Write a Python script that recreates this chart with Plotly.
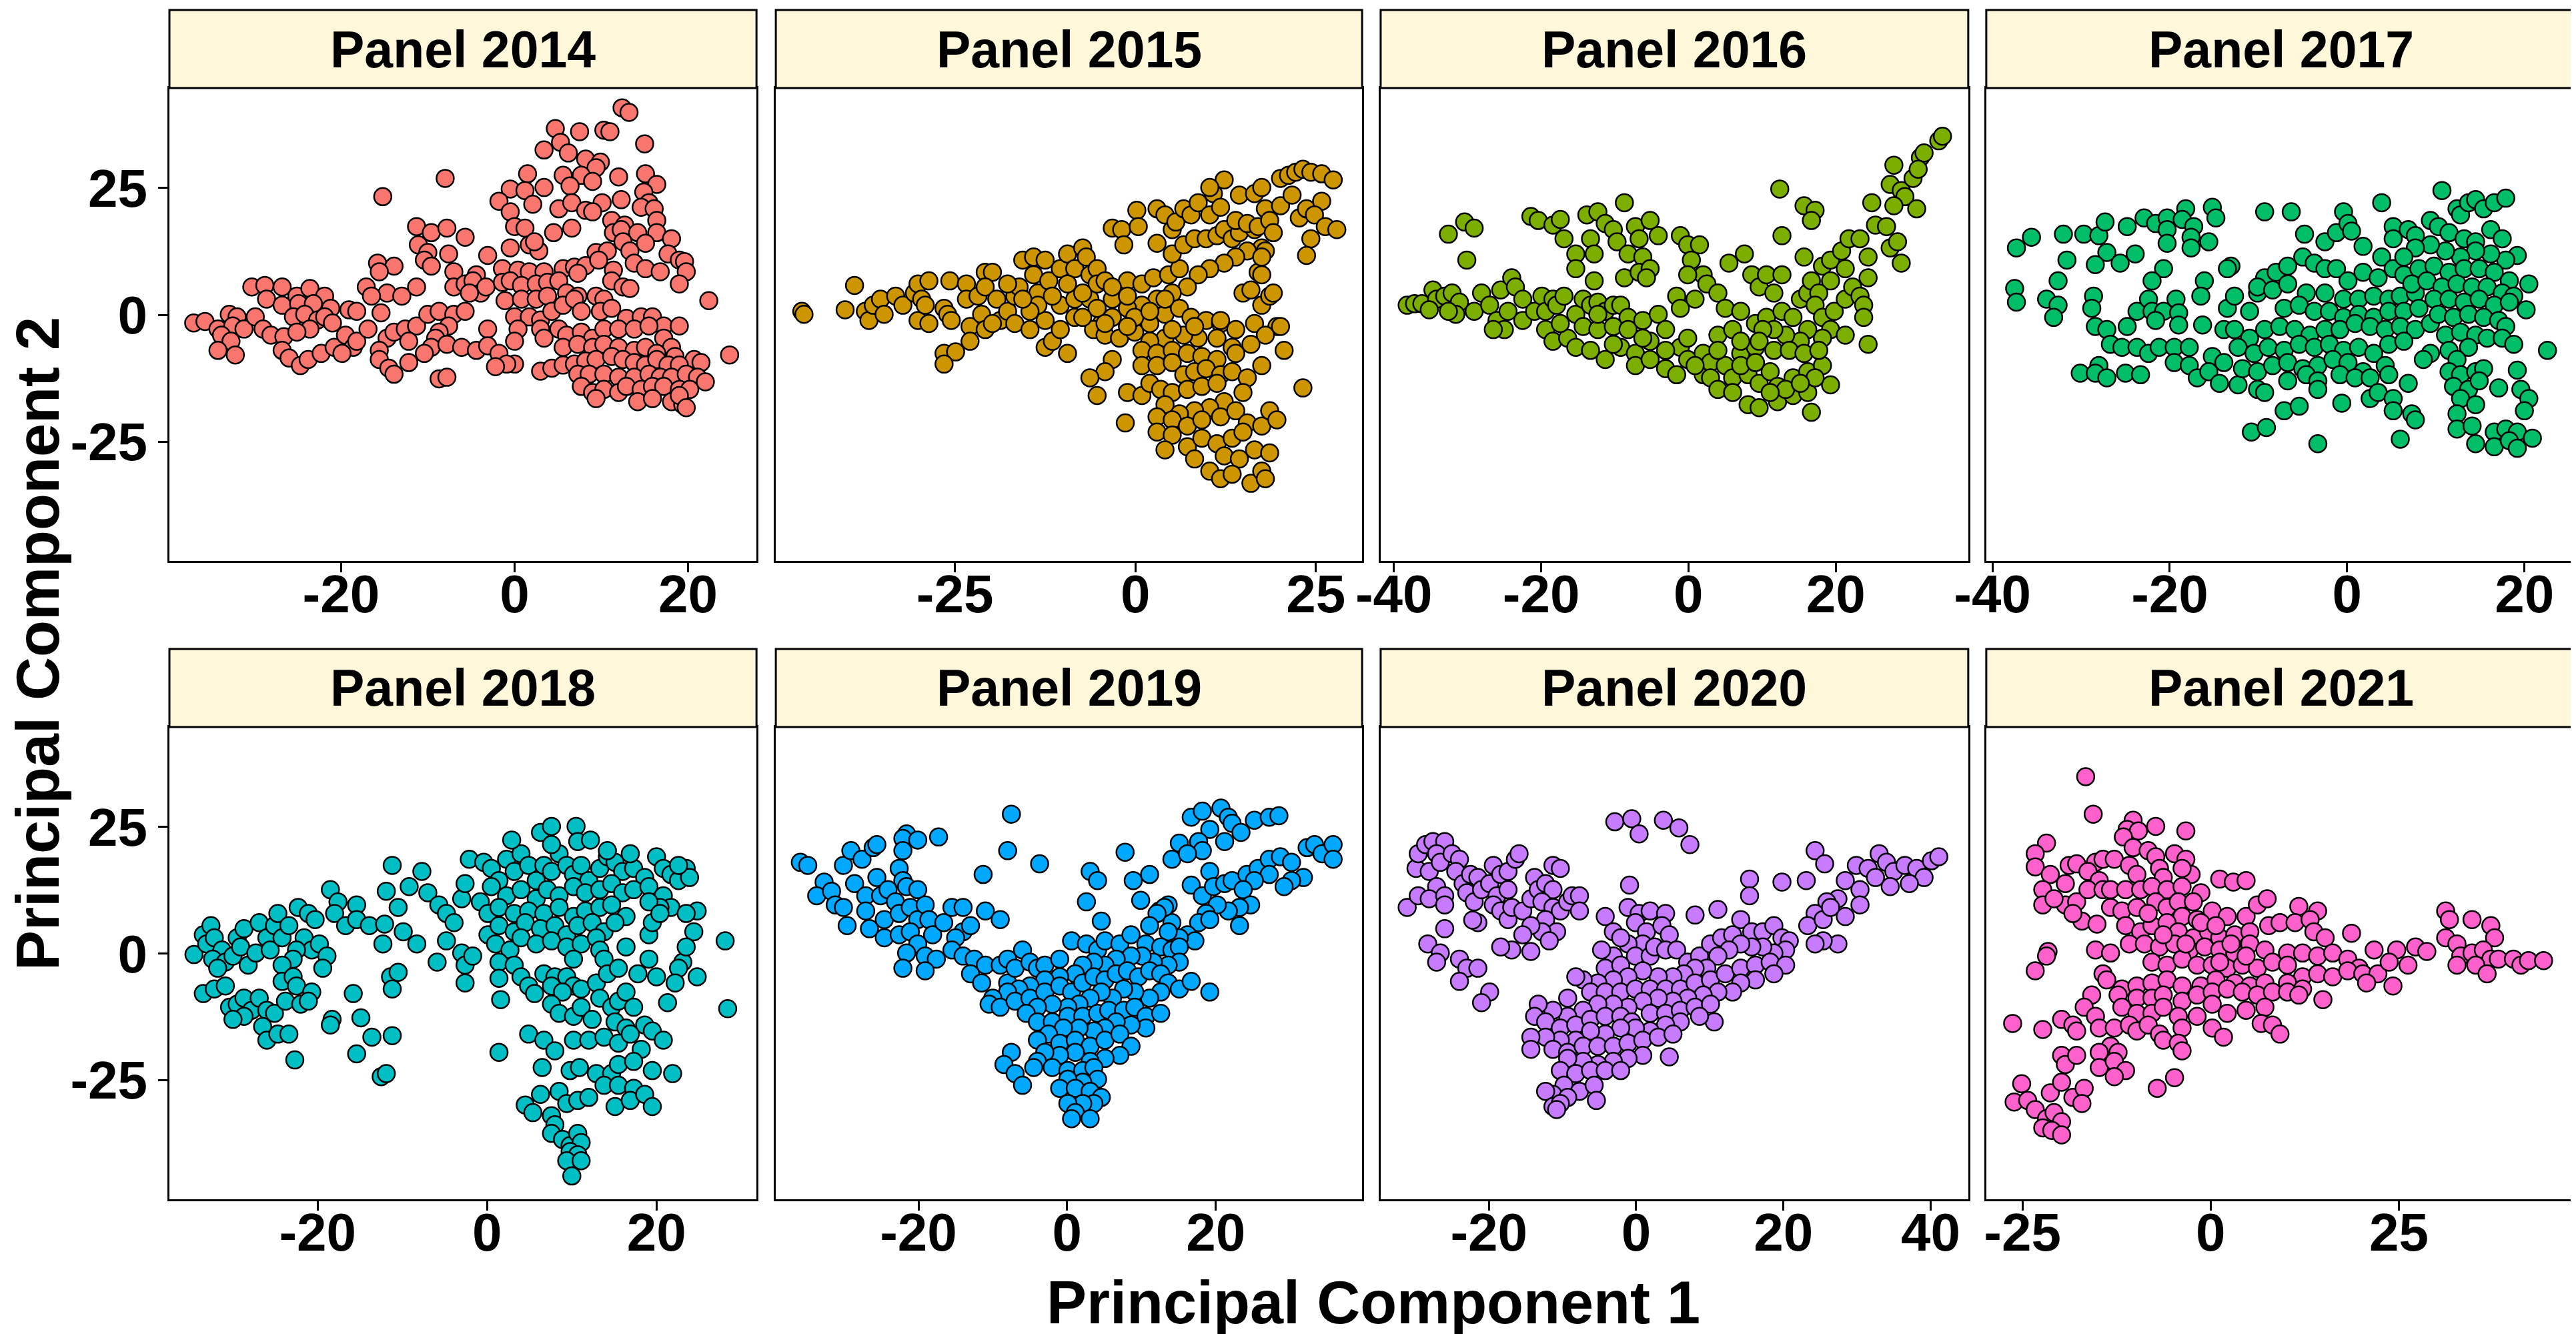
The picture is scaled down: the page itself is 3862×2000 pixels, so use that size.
import plotly.graph_objects as go

# ---------------
# DATA (PC1, PC2) per panel
# ---------------
years = [2014, 2015, 2016, 2017, 2018, 2019, 2020, 2021]
colors = ["#F8766D", "#CD9600", "#7CAE00", "#00BE67",
          "#00BFC4", "#00A9FF", "#C77CFF", "#FF61CC"]

pts_2014 = [
    (12.4, 40.8), (13.2, 39.9), (4.7, 36.7), (7.5, 36.1), (10.3, 36.4), (11.0, 36.1), (15.0, 33.7), (5.3, 34.0),
    (3.4, 32.5), (6.2, 31.9), (8.2, 30.7), (9.9, 30.1), (9.4, 29.0), (-8.0, 26.9), (1.5, 27.8), (5.6, 27.5),
    (7.7, 27.5), (9.0, 26.3), (12.0, 27.2), (15.1, 27.8), (16.4, 25.7), (-0.5, 24.8), (1.2, 24.5), (3.4, 25.1),
    (6.4, 25.4), (-15.2, 23.3), (-1.8, 22.4), (2.1, 21.8), (5.1, 20.9), (6.6, 22.1), (8.2, 20.6), (10.1, 22.1),
    (12.3, 22.7), (14.9, 24.2), (15.5, 22.1), (14.6, 21.2), (16.1, 20.9), (-0.5, 20.3), (9.0, 20.3), (16.4, 18.6),
    (11.2, 18.6), (12.7, 17.7), (-11.3, 17.4), (-9.6, 16.2), (-7.8, 17.1), (-5.7, 15.3), (0.0, 17.4), (1.2, 17.1),
    (4.5, 16.2), (6.6, 17.1), (11.4, 16.2), (12.3, 16.8), (14.2, 16.2), (16.4, 16.2), (18.1, 15.0), (-11.1, 13.8),
    (-10.0, 12.3), (-7.6, 12.0), (-3.1, 11.7), (-0.5, 13.2), (1.7, 13.8), (2.8, 12.6), (2.3, 14.4), (12.5, 14.4),
    (15.1, 14.1), (9.4, 12.3), (10.7, 12.6), (13.3, 12.6), (17.7, 12.0), (19.0, 10.8), (19.6, 10.5), (-15.8, 10.2),
    (-13.9, 9.6), (-15.6, 8.5), (-10.4, 10.8), (-9.6, 9.6), (-7.0, 8.5), (-4.4, 7.9), (-1.4, 9.1), (0.4, 8.8),
    (1.7, 8.5), (3.4, 8.5), (5.6, 9.1), (6.9, 9.4), (8.2, 9.7), (9.7, 10.8), (11.4, 8.8), (13.8, 10.2),
    (15.1, 9.1), (16.8, 8.5), (19.8, 8.5), (19.0, 6.1), (11.2, 6.7), (12.5, 5.5), (13.3, 5.2),
    (-30.3, 5.5), (-28.8, 5.8), (-26.8, 5.5), (-25.1, 3.7), (-23.6, 5.2), (-21.9, 3.7), (-28.6, 3.1), (-26.8, 1.9),
    (-24.9, 2.2), (-23.2, 2.2), (-21.2, 1.3), (-17.1, 5.5), (-14.7, 4.3), (-13.0, 3.7), (-11.3, 5.5), (-16.5, 3.7),
    (-7.0, 5.5), (-5.7, 6.1), (-4.8, 6.7), (-3.9, 4.3), (-3.3, 5.5), (-5.2, 4.3), (-1.4, 6.4), (-0.5, 6.7),
    (0.8, 5.8), (2.5, 6.1), (3.8, 6.4), (5.1, 6.7), (7.3, 8.2), (-1.1, 2.8), (0.8, 3.1), (2.5, 3.1),
    (3.8, 3.7), (6.0, 4.3), (7.3, 3.7), (9.4, 3.7), (10.3, 3.1), (22.4, 2.8),
    (-37.0, -1.6), (-35.7, -1.3), (-34.2, -2.8), (-32.9, 0.1), (-32.0, -0.4), (-32.5, -2.2), (-31.2, -2.8),
    (-33.8, -4.0), (-32.7, -5.2), (-34.2, -7.0), (-32.2, -7.9), (-29.9, -0.4), (-29.0, -2.8), (-28.1, -4.0),
    (-26.6, -4.3), (-25.5, -0.4), (-24.2, 0.1), (-22.7, -1.0), (-21.9, -0.4), (-21.0, -1.6), (-23.6, -2.8),
    (-25.1, -3.4), (-26.8, -7.0), (-26.0, -8.5), (-24.7, -10.0), (-23.8, -8.8), (-22.3, -7.6), (-20.8, -6.4),
    (-19.5, -4.0), (-18.6, -6.4), (-19.9, -7.6), (-18.2, -5.2), (-19.1, 1.0), (-18.2, 0.7), (-16.9, -2.8),
    (-15.4, 0.4), (-14.7, -4.6), (-13.9, -3.4), (-12.6, -2.8), (-11.3, -2.2), (-12.2, -5.2), (-10.0, 0.1),
    (-8.7, 0.7), (-7.0, 0.1), (-5.7, 0.7), (-7.6, -2.2), (-8.7, -3.4), (-9.1, -4.6), (-9.6, -6.4), (-7.8, -5.8),
    (-6.1, -6.4), (-4.4, -7.0), (-3.1, -2.8), (-3.1, -6.1), (-1.8, -7.6), (0.0, -9.7), (-0.9, -9.7), (-2.2, -10.2),
    (-15.6, -7.0), (-15.6, -8.8), (-14.5, -10.5), (-13.9, -11.7), (-12.2, -9.4), (-10.4, -7.6), (-8.7, -12.6),
    (-7.8, -12.3),
    (0.0, -0.4), (1.7, -0.4), (3.0, -1.0), (4.3, 0.7), (5.6, 1.9), (6.9, 3.1), (7.7, 0.7), (9.9, 0.7),
    (11.2, 1.3), (12.9, -0.7), (14.6, -0.4), (15.9, -0.4), (17.2, -2.2), (19.0, -2.2), (0.4, -2.8), (3.0, -2.8),
    (5.1, -2.8), (6.0, -4.0), (7.7, -3.4), (9.0, -4.6), (10.3, -2.8), (12.0, -2.8), (13.8, -2.8), (15.5, -2.2),
    (17.2, -4.6), (18.1, -6.4), (0.0, -5.2), (3.4, -4.6), (5.6, -6.4), (7.3, -5.8), (9.0, -6.4), (10.3, -5.8),
    (12.0, -6.4), (13.8, -7.0), (15.1, -6.4), (16.4, -7.6), (18.5, -8.2), (20.7, -8.8), (21.5, -9.4), (24.8, -7.9),
    (3.0, -11.1), (4.3, -10.5), (5.6, -9.9), (6.9, -9.7), (8.2, -9.1), (9.4, -8.8), (11.2, -8.2), (12.5, -8.8),
    (13.8, -9.4), (15.1, -9.9), (16.4, -8.8), (17.7, -9.9), (19.0, -9.9), (7.3, -11.7), (8.6, -11.7), (10.3, -11.7),
    (12.0, -12.3), (13.8, -12.3), (15.5, -11.7), (16.8, -12.3), (18.1, -12.3), (19.8, -11.7), (21.1, -12.3),
    (22.0, -13.2), (7.7, -14.1), (9.0, -15.3), (10.3, -14.7), (12.0, -15.3), (12.9, -14.1), (14.6, -14.7),
    (15.9, -14.1), (17.2, -14.1), (19.0, -14.7), (20.2, -14.7), (14.2, -17.1), (15.9, -16.5), (18.1, -17.1),
    (19.4, -17.7), (19.0, -15.9), (9.4, -16.5), (19.8, -18.3),
]

pts_2015 = [
    (-46.2, 0.7), (-45.9, 0.1), (-40.2, 1.0), (-38.9, 5.8), (-37.4, 0.7), (-36.9, -1.1), (-36.3, 1.9), (-35.3, 3.1),
    (-34.8, 0.1), (-33.2, 3.7), (-32.2, 1.9), (-30.6, 4.3), (-30.1, 6.1), (-29.6, 3.1), (-28.6, 6.7), (-30.1, -1.1),
    (-28.6, -1.7), (-29.1, 1.9), (-26.5, 1.3), (-26.0, 0.1), (-25.5, -1.1), (-25.7, 6.7), (-23.4, 6.1), (-23.4, 3.1),
    (-22.9, -2.3), (-21.8, 3.7), (-21.3, 0.1), (-20.8, 8.4), (-19.8, 8.4), (-20.8, 5.5), (-19.2, 3.1), (-18.7, -1.1),
    (-17.7, 0.7), (-16.7, 3.7), (-16.1, 5.5), (-15.6, 10.8), (-14.1, 11.4), (-12.5, 10.8), (-14.1, 7.9), (-13.5, 4.3),
    (-12.0, 6.7), (-10.4, 9.1), (-9.4, 12.0), (-8.4, 9.1), (-7.3, 13.2), (-6.8, 11.4), (-6.3, 7.9), (-5.3, 9.1),
    (-22.9, -5.2), (-26.5, -7.6), (-24.9, -7.3), (-26.5, -9.7), (-20.8, -2.9), (-19.8, -1.7), (-16.7, -1.7),
    (-14.6, -2.9), (-12.5, -1.1), (-12.5, -6.4), (-11.5, -5.2), (-9.4, -7.6), (-10.4, -2.9), (-10.4, 1.9),
    (-8.4, -0.5), (-8.4, 3.1), (-6.3, 3.1), (-5.3, 6.1), (-4.2, 6.7), (-3.2, 3.1), (-1.1, 6.7), (0.9, 6.1),
    (2.5, 7.3), (4.6, 7.9), (6.1, 9.1), (5.1, 12.0), (6.7, 13.8), (8.2, 15.0), (9.8, 15.0), (11.3, 15.6),
    (12.3, 16.8), (13.4, 15.0), (14.4, 16.2), (16.5, 16.8), (17.5, 13.2), (15.5, 12.6), (13.9, 11.4), (12.3, 10.2),
    (10.3, 9.1), (8.7, 7.9), (7.2, 5.5), (5.1, 4.3), (3.0, 3.1), (0.9, 1.9), (-1.1, 1.3), (-3.2, -0.5),
    (-4.7, -1.7), (-5.8, -2.9), (-4.2, -4.0), (-2.2, -4.6), (-0.1, -3.4), (2.0, -1.7), (4.1, 0.1), (6.1, 1.3),
    (7.7, -0.5), (9.8, -1.1), (11.8, -1.7), (13.9, -2.9), (16.5, -1.7), (19.6, -2.3), (18.0, -4.0), (16.0, -5.8),
    (13.4, -6.4), (11.3, -4.6), (8.7, -4.6), (6.7, -4.0), (4.1, -4.6), (2.0, -5.2), (0.9, -7.0), (3.0, -7.6),
    (5.1, -7.0), (7.2, -7.6), (9.2, -8.2), (11.3, -8.8), (13.9, -7.6), (-3.2, -8.8), (-4.2, -11.2), (-6.3, -12.4),
    (-5.3, -15.9), (-1.1, -15.3), (0.9, -15.9), (2.0, -13.5), (0.9, -10.0), (3.0, -10.0), (5.1, -9.4), (6.7, -11.8),
    (8.2, -11.2), (9.8, -10.6), (11.8, -11.8), (13.4, -11.2), (15.5, -12.4), (17.5, -10.0), (14.9, -15.3),
    (20.6, -7.0), (23.2, -14.4), (3.5, -14.7), (5.1, -15.3), (7.2, -14.7), (9.2, -14.1), (11.3, -13.5),
    (12.3, -17.1), (10.3, -18.3), (8.2, -18.9), (6.1, -19.5), (4.1, -17.7), (3.0, -20.1), (5.1, -20.7),
    (7.2, -21.9), (9.2, -20.7), (11.8, -20.1), (13.9, -18.9), (15.5, -21.3), (17.5, -21.9), (18.6, -18.9),
    (19.6, -20.7), (-1.4, -21.3), (3.0, -23.1), (5.1, -23.7), (7.2, -26.0), (9.2, -24.3), (11.3, -25.4),
    (13.4, -24.3), (14.9, -23.1), (16.5, -26.6), (18.6, -27.2), (4.1, -26.6), (8.2, -28.4), (10.3, -30.8),
    (12.3, -27.8), (14.4, -28.4), (11.8, -32.3), (13.4, -31.4), (16.0, -33.2), (17.5, -30.8), (18.0, -32.3),
    (-3.2, 17.1), (-1.9, 16.8), (-1.6, 13.8), (0.2, 20.6), (0.4, 17.4), (3.0, 20.9), (4.1, 19.7), (3.0, 14.1),
    (5.1, 16.8), (5.6, 18.3), (6.7, 20.9), (7.7, 19.7), (8.7, 22.1), (10.3, 19.7), (10.8, 23.9), (11.8, 21.2),
    (12.3, 26.6), (10.3, 25.1), (13.9, 18.6), (14.4, 23.6), (15.5, 18.0), (16.5, 23.9), (17.5, 25.1), (18.0, 20.9),
    (17.0, 17.4), (18.6, 18.6), (19.1, 16.2), (20.1, 21.5), (20.1, 26.9), (21.2, 27.5), (22.2, 28.1), (23.2, 28.7),
    (24.3, 28.1), (25.8, 27.8), (27.4, 26.6), (21.7, 23.6), (22.7, 19.1), (23.7, 20.9), (25.8, 22.4), (24.8, 19.7),
    (26.3, 17.4), (27.9, 16.8), (24.3, 15.0), (23.7, 11.7), (18.0, 12.6), (17.0, 8.4), (17.5, 7.9), (14.9, 4.3),
    (16.0, 4.9), (17.5, 1.9), (18.6, 3.7), (19.1, 4.3), (11.8, -1.1), (20.1, -2.3), (17.5, 11.4),
    (-17.7, 6.1), (-13.5, 1.9), (-11.5, 3.7), (-9.4, 6.1), (-7.3, 4.3), (-5.3, 1.3), (-3.2, 5.5), (-1.1, 3.7),
    (-0.1, -0.5), (2.0, 0.7), (4.1, 3.1), (-4.2, -1.7), (-7.3, -0.5), (-1.1, -2.3), (5.1, -2.9), (8.2, -2.3),
    (-14.6, 0.7), (-15.6, 3.1),
]

pts_2016 = [
    (-38.2, 1.9), (-37.2, 2.2), (-36.2, 2.2), (-34.7, 4.9), (-34.2, 3.1), (-33.1, 3.7), (-32.1, 4.3), (-31.1, 2.5),
    (-31.6, 0.1), (-32.6, 0.7), (-35.2, 1.0), (-29.1, 0.7), (-28.1, 4.3), (-27.0, 1.9), (-26.0, -1.1), (-25.5, 4.9),
    (-24.0, 7.3), (-23.5, 5.5), (-24.5, 0.7), (-22.5, 3.1), (-22.5, -1.1), (-25.0, -2.9), (-26.5, -2.9), (-20.9, 0.7),
    (-19.9, 3.7), (-19.4, 0.7), (-18.4, 3.1), (-17.9, 1.9), (-16.9, 3.7), (-19.4, -2.9), (-18.4, -5.2), (-16.4, -4.6),
    (-15.3, 0.1), (-14.3, 3.1), (-13.3, 1.9), (-12.3, 2.5), (-11.3, 0.7), (-10.2, 1.9), (-9.2, 1.9), (-8.2, -0.5),
    (-14.3, -2.3), (-12.3, -2.9), (-10.2, -2.3), (-8.2, -2.9), (-6.2, -1.1), (-4.1, 0.1), (-15.3, -6.4), (-13.3, -7.0),
    (-11.3, -8.8), (-9.2, -6.4), (-7.2, -7.6), (-5.2, -5.2), (-3.1, -2.9), (-1.1, -6.4), (-0.1, -4.6), (-7.2, -10.0),
    (-5.2, -8.8), (-3.1, -10.6), (-1.6, -11.8), (-0.1, -8.8), (2.0, -7.6), (2.0, -11.8), (3.0, -9.4), (5.0, -10.0),
    (7.1, -7.6), (9.1, -6.4), (6.0, -12.4), (8.1, -11.8), (9.6, -13.5), (11.1, -11.2), (12.1, -14.1), (14.2, -12.4),
    (16.2, -11.2), (18.2, -10.0), (19.3, -13.8), (8.1, -17.7), (9.6, -18.3), (12.1, -17.1), (14.2, -15.9),
    (16.2, -15.3), (16.7, -19.2), (17.2, -12.4),
    (-32.6, 15.9), (-30.4, 18.3), (-29.1, 17.1), (-30.1, 10.8), (-21.4, 19.4), (-20.4, 18.6), (-18.4, 17.7),
    (-17.4, 18.8), (-16.9, 15.0), (-15.3, 12.0), (-15.3, 9.1), (-13.8, 19.7), (-13.3, 15.0), (-12.8, 12.0),
    (-12.8, 6.7), (-12.3, 20.3), (-11.3, 18.0), (-10.2, 16.8), (-9.7, 14.4), (-8.7, 22.1), (-8.2, 12.0), (-8.7, 7.3),
    (-7.2, 17.4), (-6.7, 15.0), (-6.2, 11.4), (-6.7, 8.4), (-5.2, 18.6), (-5.2, 9.1), (-4.1, 15.6), (-5.7, 7.3),
    (-1.1, 15.6), (-0.1, 13.8), (0.4, 10.8), (1.5, 13.8), (2.0, 7.9), (-0.1, 7.9), (-1.6, 3.7), (-1.1, 1.3),
    (0.9, 3.1), (2.5, 6.1), (4.0, 4.3), (5.5, 10.2), (7.6, 12.0), (8.6, 7.9), (9.6, 5.5), (10.6, 7.9), (11.6, 4.3),
    (12.7, 7.9), (5.0, 1.3), (7.1, 0.7), (9.1, -1.7), (10.6, -0.5), (12.7, 0.7), (14.2, -0.5), (15.2, 3.1),
    (16.2, 4.3), (16.7, 6.7), (18.2, 9.6), (19.3, 10.8), (20.8, 12.6), (21.8, 15.0), (23.3, 15.0), (24.4, 11.4),
    (21.3, 9.1), (19.3, 6.7), (17.7, 4.3), (17.2, 1.9), (18.2, -0.5), (19.8, 0.7), (21.3, 3.1), (22.3, 5.5),
    (24.4, 7.3), (23.3, 3.7), (23.8, 1.9), (23.8, -0.5), (19.3, -2.9), (21.3, -4.0), (18.2, -4.6), (16.2, -2.9),
    (15.2, -5.2), (13.2, -4.0), (11.6, -2.9), (10.1, -2.9), (9.6, -5.2), (11.6, -7.0), (13.7, -7.0), (15.7, -7.6),
    (17.7, -7.0), (24.4, -5.8), (4.0, -4.0), (6.0, -2.9), (7.1, -5.2),
    (12.4, 24.8), (12.7, 15.6), (15.7, 21.5), (17.2, 20.6), (16.7, 18.6), (15.7, 11.4), (24.9, 22.1), (25.4, 17.7),
    (26.9, 17.4), (27.9, 29.5), (27.4, 25.7), (28.9, 24.5), (29.4, 23.3), (27.9, 21.5), (27.4, 13.2), (28.4, 14.4),
    (28.9, 10.2), (31.0, 20.9), (30.5, 26.9), (31.5, 31.0), (32.0, 31.9), (31.2, 28.7), (34.0, 34.3), (34.5, 35.2),
    (3.0, -12.4), (4.0, -14.7), (6.0, -15.3), (13.2, -14.7), (15.2, -13.5), (11.1, -15.3), (-3.1, -7.0),
    (0.9, -10.0), (4.0, -7.0), (7.1, -10.0), (9.1, -9.4), (-10.2, -5.8), (-6.2, -4.6), (-12.3, 0.1), (-17.4, -1.7),
]

pts_2017 = [
    (-37.3, 13.2), (-35.6, 15.3), (-32.0, 15.9), (-31.6, 10.8), (-32.6, 6.7), (-29.7, 15.9), (-28.0, 15.6),
    (-27.3, 18.3), (-27.1, 12.3), (-28.4, 9.9), (-25.6, 10.2), (-24.8, 17.4), (-23.9, 12.0), (-22.9, 19.1),
    (-21.6, 18.0), (-20.3, 19.1), (-20.3, 16.8), (-20.3, 14.1), (-18.2, 20.9), (-18.6, 18.8), (-17.3, 17.4),
    (-17.6, 15.3), (-17.6, 13.2), (-15.2, 21.2), (-14.8, 19.1), (-15.6, 14.4), (-20.7, 9.1), (-22.0, 6.7),
    (-16.1, 6.7), (-16.5, 3.7), (-13.1, 9.6), (-37.5, 5.2), (-37.3, 2.5), (-33.9, 3.1), (-32.6, 1.9), (-33.1, -0.5),
    (-28.6, 3.7), (-28.8, 1.3), (-28.4, -2.3), (-27.1, -2.9), (-24.8, -2.3), (-23.7, 0.7), (-22.4, 3.1), (-22.0, 0.7),
    (-20.7, 0.7), (-19.3, 3.1), (-19.0, 0.4), (-19.0, -2.0), (-21.6, -1.1), (-16.3, -2.0), (-26.7, -5.8),
    (-25.4, -6.4), (-23.7, -6.4), (-22.4, -7.6), (-21.2, -6.4), (-19.5, -6.4), (-17.8, -6.4), (-28.0, -10.0),
    (-30.1, -11.5), (-28.4, -11.5), (-27.1, -12.4), (-25.0, -11.5), (-23.3, -11.8), (-19.5, -9.4), (-17.8, -10.0),
    (-16.9, -12.4), (-15.2, -8.2), (-13.9, -9.4), (-15.6, -11.2), (-14.4, -13.5), (-12.3, -13.8), (-13.9, -2.9),
    (-13.5, 1.3), (-12.7, 3.7), (-11.0, 0.7), (-10.1, 4.3),
    (-9.3, 20.3), (-6.3, 20.3), (-4.8, 15.9), (-2.5, 14.4), (-1.2, 16.2), (-0.4, 20.3), (0.1, 18.0), (0.5, 16.5),
    (1.8, 13.5), (3.9, 22.1), (5.2, 17.4), (5.2, 15.0), (3.9, 11.4), (-13.5, 9.1), (-9.3, 7.3), (-8.0, 8.4),
    (-6.7, 9.6), (-5.0, 11.4), (-3.7, 10.2), (-2.5, 9.1), (-1.2, 9.1), (0.1, 6.7), (1.8, 8.4), (3.5, 7.3),
    (5.2, 9.1), (6.4, 7.9), (-10.1, 5.5), (-8.4, 4.9), (-6.7, 6.1), (-4.6, 4.3), (-2.5, 4.3), (-0.4, 3.1),
    (1.3, 3.1), (3.0, 3.7), (4.7, 3.1), (6.0, 3.7), (7.7, 4.3), (-7.1, 1.3), (-5.4, 1.9), (-3.7, 0.7), (-2.0, 0.7),
    (-0.4, -0.5), (1.3, 0.1), (3.0, -0.5), (4.7, 0.7), (6.4, 0.7), (8.1, 1.3), (-12.7, -2.9), (-11.0, -4.6),
    (-9.3, -2.9), (-7.6, -2.3), (-5.9, -2.9), (-4.2, -4.0), (-2.5, -2.9), (-0.8, -2.9), (0.9, -1.7), (2.6, -2.3),
    (4.3, -2.9), (6.0, -2.3), (7.7, -2.9), (9.4, -1.7), (-12.3, -6.4), (-10.5, -7.6), (-8.9, -6.4), (-7.1, -7.0),
    (-5.4, -5.8), (-3.7, -6.4), (-2.0, -5.8), (-0.4, -7.0), (1.3, -6.4), (3.0, -7.6), (4.7, -5.8), (6.4, -5.2),
    (9.4, -7.6), (8.6, -8.8), (-11.8, -10.6), (-10.1, -11.2), (-8.4, -10.0), (-6.7, -9.4), (-5.0, -10.6),
    (-3.3, -10.0), (-1.6, -8.8), (0.1, -9.4), (1.8, -11.2), (4.3, -10.0), (-10.1, -14.7), (-9.3, -15.3),
    (-6.7, -13.0), (-4.6, -11.8), (-3.3, -13.0), (-3.3, -14.7), (-0.8, -11.8), (0.9, -12.4), (2.6, -12.4),
    (4.7, -11.8), (6.9, -13.5), (2.6, -16.5), (3.5, -15.3), (5.2, -16.5), (5.2, -18.9), (7.3, -19.5), (7.7, -20.7),
    (-0.6, -17.4), (-7.1, -18.9), (-5.4, -18.0), (-10.8, -23.1), (-9.1, -22.2), (-3.3, -25.4), (6.0, -24.5),
    (6.9, 16.8), (7.7, 15.6), (9.4, 18.6), (10.3, 17.4), (10.7, 24.5), (12.4, 20.9), (12.8, 19.7), (13.7, 22.1),
    (14.5, 22.7), (15.4, 20.9), (16.6, 22.1), (17.9, 23.0), (11.5, 16.2), (13.2, 15.0), (14.5, 14.4), (16.2, 16.8),
    (17.5, 15.0), (19.2, 11.7), (17.9, 10.8), (16.2, 12.0), (14.5, 12.6), (12.8, 11.4), (11.1, 12.6), (9.4, 13.8),
    (7.7, 13.2), (6.4, 11.4), (8.1, 9.1), (9.8, 9.6), (11.5, 8.4), (13.2, 9.1), (14.9, 9.1), (16.6, 8.4),
    (18.3, 6.7), (20.5, 6.1), (7.3, 6.1), (9.0, 6.7), (10.7, 5.5), (12.4, 6.1), (14.1, 5.5), (15.8, 5.5),
    (17.5, 4.3), (18.8, 3.7), (9.8, 3.1), (11.5, 3.1), (13.2, 2.5), (14.9, 3.1), (16.6, 1.9), (18.3, 2.5),
    (20.2, 1.0), (10.3, 0.1), (12.0, -0.5), (13.7, 0.1), (15.4, -0.5), (17.1, -1.1), (17.9, -2.3), (11.1, -4.0),
    (12.8, -3.4), (14.5, -4.0), (15.8, -4.6), (17.5, -4.6), (18.8, -5.8), (22.6, -7.0), (11.5, -7.0), (13.7, -6.4),
    (12.4, -8.8), (11.5, -11.2), (12.8, -11.8), (14.5, -11.2), (15.4, -10.6), (19.2, -10.9), (12.0, -14.1),
    (13.7, -14.7), (14.9, -13.0), (17.1, -14.4), (12.8, -16.5), (14.5, -17.7), (19.6, -14.7), (20.5, -16.5),
    (20.0, -18.9), (12.4, -19.5), (12.4, -22.5), (14.1, -21.9), (16.6, -23.1), (17.9, -22.5), (19.2, -23.1),
    (20.9, -24.3), (14.5, -25.4), (16.6, -26.0), (18.3, -24.8), (19.2, -26.3),
]

pts_2018 = [
    (-34.6, -0.2), (-33.5, 3.7), (-32.6, 5.5), (-33.1, 1.9), (-32.2, 3.1), (-31.3, 0.7), (-32.4, -1.1), (-30.9, -1.7),
    (-31.8, -2.9), (-30.0, -0.5), (-29.5, 3.1), (-28.7, 4.9), (-29.1, 1.3), (-28.2, -2.3), (-27.3, 0.1), (-26.9, 6.1),
    (-26.0, 3.1), (-25.1, 5.5), (-24.7, 7.9), (-25.6, 0.7), (-24.2, 3.1), (-23.4, 5.5), (-22.3, 9.1), (-21.1, 7.9),
    (-20.3, 6.7), (-21.6, 3.1), (-20.7, 0.7), (-19.8, 1.9), (-18.9, -0.5), (-19.4, -2.9), (-22.5, 0.7), (-22.9, -1.1),
    (-24.2, -2.3), (-33.5, -7.9), (-32.2, -7.0), (-30.9, -6.4), (-30.4, -10.6), (-29.5, -10.0), (-28.7, -8.8),
    (-27.8, -11.2), (-26.9, -8.8), (-26.0, -11.2), (-25.1, -11.8), (-28.7, -12.4), (-30.0, -13.0), (-24.2, -5.5),
    (-22.9, -4.6), (-22.5, -6.4), (-23.8, -9.4), (-22.0, -10.0), (-20.7, -7.6), (-21.1, -9.4), (-26.5, -14.4),
    (-26.0, -17.1), (-24.7, -15.9), (-23.4, -15.9), (-22.7, -21.0), (-18.5, 12.6), (-17.6, 10.2), (-18.0, 7.9),
    (-16.7, 5.5), (-15.4, 9.6), (-15.4, 6.7), (-13.9, 5.5), (-12.1, 5.8), (-12.3, 1.9), (-11.9, 12.3), (-11.2, 17.4),
    (-9.9, 4.3), (-9.2, 13.2), (-10.5, 9.1), (-8.3, 1.9), (-7.7, 16.2), (-15.8, -7.9), (-18.3, -13.0),
    (-18.5, -14.1), (-14.9, -12.7), (-13.6, -16.5), (-11.2, -16.2), (-15.4, -19.8), (-12.5, -24.3), (-11.9, -23.7),
    (-11.4, -4.6), (-10.5, -3.7), (-11.2, -7.0),
    (-7.0, 12.0), (-5.7, 9.6), (-4.8, 7.9), (-5.9, -1.7), (-4.8, 2.5), (-3.9, 6.1), (-3.0, 10.8), (-2.6, 13.8),
    (-2.1, 18.6), (-3.0, 0.1), (-2.6, -2.3), (-1.7, -0.5), (-2.6, -5.8), (-0.8, 10.2), (-0.4, 18.0), (0.5, 16.8),
    (1.4, 14.4), (2.3, 18.6), (3.2, 16.2), (4.0, 19.7), (4.9, 17.4), (5.8, 14.4), (6.7, 17.4), (7.6, 16.2),
    (8.5, 19.7), (9.4, 17.4), (10.2, 15.6), (11.1, 17.4), (12.0, 14.4), (13.3, 16.8), (14.2, 19.1), (15.1, 18.0),
    (16.0, 16.2), (17.3, 16.8), (18.6, 15.0), (20.0, 19.1), (20.8, 16.8), (21.7, 15.6), (22.6, 14.4), (23.5, 16.8),
    (23.9, 15.0), (22.6, 17.4), (2.9, 22.4), (6.3, 23.9), (7.6, 25.1), (10.5, 25.1), (10.7, 22.1), (12.2, 22.4),
    (7.6, 21.5), (14.2, 20.3), (16.9, 19.7), (0.5, 13.2), (2.3, 11.4), (4.0, 12.6), (5.8, 10.8), (7.1, 12.6),
    (8.5, 11.4), (10.2, 13.2), (11.6, 12.0), (13.3, 12.6), (14.7, 13.8), (16.0, 12.0), (17.3, 12.6), (19.1, 13.2),
    (20.8, 11.4), (21.7, 9.1), (20.4, 9.1), (19.1, 10.2), (24.8, 8.4), (23.5, 7.9), (24.4, 4.3), (0.1, 7.9),
    (1.4, 9.1), (3.2, 7.9), (4.9, 8.4), (6.7, 7.9), (8.5, 9.1), (10.2, 7.3), (11.6, 8.4), (13.3, 9.1), (14.7, 9.6),
    (16.4, 7.3), (0.1, 3.7), (1.4, 5.5), (3.2, 4.3), (4.5, 6.1), (6.3, 4.9), (8.0, 5.5), (9.4, 3.7), (10.7, 5.5),
    (12.4, 6.1), (13.8, 4.3), (15.1, 6.1), (1.0, 1.9), (2.7, 0.7), (4.0, 3.1), (5.8, 1.9), (7.6, 2.5), (9.4, 1.3),
    (11.1, 1.9), (12.9, 3.1), (13.3, 0.7), (10.2, -1.1), (13.8, -1.1), (16.4, 1.3), (19.1, 3.7), (19.5, 6.1),
    (20.4, 7.9), (28.1, 2.5), (1.4, -1.7), (3.2, -2.3), (4.0, -4.6), (4.9, -6.4), (5.6, -7.9), (6.7, -4.0),
    (8.0, -4.6), (9.4, -4.6), (10.2, -6.4), (7.6, -6.4), (8.9, -7.6), (11.1, -7.0), (12.9, -5.8), (14.2, -4.0),
    (15.5, -2.9), (17.8, -4.0), (19.1, -1.1), (20.0, -4.6), (23.1, -1.7), (23.5, 1.3), (22.6, -2.9), (24.8, -4.6),
    (22.2, -5.8), (1.4, -4.9), (1.6, -9.1), (28.4, -10.9), (21.3, -9.7), (7.6, -10.0), (8.5, -11.8), (10.2, -12.4),
    (11.1, -10.6), (12.4, -13.0), (13.3, -8.8), (14.7, -10.6), (15.5, -9.4), (16.4, -7.6), (17.3, -10.6),
    (18.6, -14.1), (15.1, -13.5), (16.4, -14.7), (4.9, -15.9), (6.7, -17.1), (8.0, -19.2), (10.2, -17.1),
    (12.0, -17.1), (13.8, -16.5), (15.5, -17.7), (16.9, -15.9), (18.2, -18.9), (19.5, -15.3), (20.8, -17.1),
    (1.4, -19.5), (6.5, -22.5), (9.8, -23.1), (10.9, -22.5), (12.9, -23.7), (14.7, -23.7), (15.5, -21.9),
    (17.3, -21.3), (19.5, -23.1), (21.9, -23.7), (13.8, -26.0), (15.5, -26.0), (17.3, -26.6), (15.1, -30.2),
    (16.9, -29.0), (18.6, -27.8), (19.5, -30.2), (4.5, -29.9), (5.4, -31.4), (6.3, -27.8), (8.5, -27.2),
    (9.4, -29.6), (10.7, -29.0), (12.0, -28.4), (7.6, -32.0), (8.0, -33.8), (7.6, -35.5), (8.9, -36.7),
    (9.8, -37.9), (10.7, -35.5), (11.1, -37.3), (9.8, -39.1), (10.7, -39.7), (9.4, -40.9), (11.1, -40.9),
    (10.0, -43.9),
]

pts_2019 = [
    (-35.9, 18.0), (-34.9, 17.4), (-32.7, 14.1), (-33.7, 11.4), (-31.7, 12.3), (-30.1, 17.4), (-29.1, 20.3),
    (-27.6, 18.6), (-26.1, 20.9), (-25.6, 21.5), (-21.6, 23.6), (-22.1, 22.7), (-20.1, 22.4), (-17.3, 23.0),
    (-22.1, 20.3), (-22.6, 16.8), (-22.1, 14.4), (-31.2, 9.6), (-29.6, 5.5), (-30.1, 9.1), (-28.6, 13.8),
    (-27.1, 11.4), (-27.1, 8.4), (-26.6, 4.9), (-25.6, 15.0), (-25.1, 11.4), (-24.1, 12.6), (-24.6, 6.7),
    (-24.6, 3.1), (-23.1, 10.2), (-22.6, 7.9), (-21.6, 13.2), (-20.1, 12.6), (-21.1, 9.1), (-20.1, 6.7),
    (-22.6, 3.7), (-21.1, 4.3), (-19.1, 9.6), (-18.6, 6.7), (-18.1, 3.7), (-20.1, 1.9), (-21.6, 0.1), (-19.1, -0.5),
    (-17.6, -1.1), (-22.1, -2.9), (-19.1, -3.4), (-16.6, 6.1), (-15.5, 9.1), (-14.0, 9.1), (-14.0, 4.3),
    (-15.0, 3.1), (-13.0, 5.5), (-11.0, 8.4), (-9.0, 6.7), (-15.5, 0.7), (-14.0, -0.5), (-12.5, -1.1), (-11.0, -2.3),
    (-9.0, -2.3), (-8.0, -1.1), (-13.0, -4.0), (-11.5, -5.8), (-11.3, 15.6),
    (-7.5, 27.5), (-8.0, 20.3), (-3.7, 17.7), (3.1, 16.2), (4.1, 14.4), (2.6, 10.2), (4.6, 6.4), (7.8, 20.0),
    (8.9, 14.4), (11.1, 15.6), (9.9, 10.5), (12.4, 8.4), (13.6, 9.6), (14.1, 18.6), (15.1, 21.8),
    (16.7, 26.9), (18.2, 28.1), (19.2, 24.5), (20.7, 28.7), (21.7, 26.9), (21.2, 22.1), (22.2, 25.7), (23.4, 23.9),
    (25.2, 26.3), (27.2, 26.9), (28.5, 27.2), (17.7, 22.1), (18.2, 20.3), (16.2, 19.7), (19.2, 16.2), (16.7, 13.5),
    (18.2, 11.4), (19.7, 13.2), (21.2, 13.8), (22.2, 14.4), (24.2, 15.6), (25.7, 16.8), (27.2, 18.6), (28.7, 19.1),
    (30.2, 18.0), (32.3, 20.9), (33.3, 21.5), (34.3, 19.7), (35.8, 21.5), (35.8, 18.6), (31.8, 15.0), (30.2, 14.4),
    (29.2, 13.2), (27.2, 15.6), (25.2, 14.4), (23.7, 12.6), (24.7, 9.6), (23.2, 9.1), (21.7, 8.4), (20.2, 9.6),
    (18.7, 7.9), (17.7, 6.1), (19.2, 6.7), (23.2, 5.5), (16.2, 3.7), (17.2, 2.5), (15.1, 3.1), (14.1, 6.1),
    (13.1, 9.1), (12.1, 7.9), (11.1, 5.5), (13.6, 4.3),
    (-8.0, -5.8), (-7.0, -2.9), (-6.0, 0.7), (-5.0, -1.7), (-4.0, -2.9), (-3.0, -2.3), (-1.0, -1.1), (0.6, 2.5),
    (2.6, 1.9), (4.1, 0.7), (5.1, 2.5), (7.1, 1.9), (8.6, 3.7), (10.6, 1.9), (12.6, 1.3), (14.1, 0.7), (15.1, 1.3),
    (15.1, -1.7), (13.6, -2.3), (11.6, -1.7), (10.1, -0.5), (8.6, -0.5), (6.6, -1.1), (5.1, -2.3), (3.6, -1.7),
    (2.1, -2.3), (1.1, -4.0), (-1.0, -4.6), (-3.0, -5.2), (-5.0, -6.4), (-6.5, -7.0), (-8.0, -7.6), (-10.0, -8.8),
    (-10.5, -10.0), (-9.0, -10.6), (-7.0, -9.4), (-5.0, -8.8), (-3.0, -7.6), (-1.0, -6.4), (0.6, -7.6), (2.1, -5.8),
    (3.6, -4.6), (5.1, -5.2), (6.6, -4.0), (8.1, -3.4), (9.6, -4.6), (11.1, -3.4), (12.6, -4.0), (13.6, -5.8),
    (15.1, -7.0), (16.7, -5.5), (19.2, -7.6), (12.6, -7.6), (11.1, -8.8), (9.1, -7.6), (7.6, -7.0), (6.1, -8.8),
    (4.6, -7.6), (3.1, -8.8), (1.6, -10.0), (0.1, -10.6), (-2.0, -10.0), (-4.0, -10.6), (-5.5, -11.8), (-4.0, -13.5),
    (-2.0, -13.5), (0.1, -12.4), (2.1, -12.4), (4.1, -11.8), (5.6, -11.2), (7.6, -11.2), (9.1, -10.6), (10.6, -12.4),
    (12.6, -11.8), (10.6, -14.7), (8.6, -14.1), (6.6, -13.5), (5.1, -14.7), (3.6, -15.3), (1.6, -14.7),
    (-0.5, -14.7), (-2.5, -15.9), (-4.0, -17.1), (-1.0, -17.7), (1.1, -17.1), (3.1, -18.3), (5.1, -17.1),
    (7.1, -15.9), (8.6, -18.3), (7.1, -20.1), (5.1, -20.7), (3.1, -21.3), (1.1, -19.5), (-1.0, -20.1), (-3.0, -19.5),
    (-4.0, -21.3), (-7.5, -19.5), (-8.5, -21.9), (-7.0, -23.7), (-6.0, -26.0), (-4.5, -22.5), (-2.0, -22.5),
    (0.1, -23.1), (2.1, -23.1), (3.6, -22.5), (4.1, -24.8), (2.1, -25.4), (0.1, -24.8), (-1.0, -26.6), (1.1, -26.6),
    (3.1, -27.2), (4.6, -28.4), (3.6, -29.6), (2.1, -29.6), (0.1, -29.6), (1.1, -31.4), (3.1, -32.6), (0.6, -32.6),
]

pts_2020 = [
    (-31.1, 9.1), (-29.6, 11.4), (-29.9, 16.8), (-29.6, 19.7), (-28.6, 21.5), (-27.6, 22.1), (-26.0, 22.1),
    (-27.1, 19.7), (-28.1, 16.2), (-26.6, 18.0), (-25.0, 19.7), (-24.0, 18.6), (-24.5, 16.2), (-27.1, 13.2),
    (-28.1, 10.8), (-26.0, 11.4), (-26.0, 9.6), (-23.5, 13.8), (-22.5, 15.6), (-21.5, 15.0), (-23.0, 12.0),
    (-22.0, 10.2), (-21.0, 12.6), (-19.4, 17.4), (-19.9, 13.8), (-18.9, 11.4), (-18.4, 15.6), (-17.4, 12.6),
    (-17.4, 16.2), (-16.4, 18.6), (-15.9, 19.7), (-19.4, 9.6), (-18.4, 8.4), (-17.4, 6.7), (-16.9, 9.1),
    (-15.4, 8.4), (-14.3, 10.8), (-13.8, 15.0), (-13.3, 12.6), (-12.3, 13.8), (-11.3, 12.6), (-11.3, 17.4),
    (-10.3, 16.8), (-12.8, 10.2), (-11.3, 9.1), (-10.3, 8.4), (-9.3, 10.2), (-8.7, 11.4), (-7.7, 11.4), (-7.7, 8.4),
    (-12.3, 6.7), (-10.8, 4.3), (-12.8, 4.3), (-11.8, 2.5), (-14.3, 5.5), (-15.4, 3.7), (-16.9, 0.7), (-18.4, 1.3),
    (-14.3, 0.4), (-21.5, 6.1), (-22.2, 6.6), (-26.0, 4.9), (-28.3, 1.9), (-26.6, 0.1), (-27.1, -1.7), (-24.0, -1.1),
    (-23.0, -2.9), (-21.5, -2.9), (-24.0, -5.5), (-19.9, -7.6), (-21.0, -9.7),
    (-2.9, 26.0), (-0.6, 26.6), (0.4, 23.6), (3.7, 26.3), (5.8, 24.8), (7.3, 21.5), (-0.9, 13.5), (8.0, 7.6),
    (11.1, 8.7), (15.4, 14.7), (15.4, 11.4), (19.8, 14.1), (23.1, 14.4), (24.3, 20.3), (25.6, 17.7),
    (28.4, 14.4), (29.9, 17.4), (31.5, 16.8), (33.0, 19.7), (34.0, 18.0), (35.0, 16.2), (36.5, 17.4), (38.1, 16.8),
    (39.1, 15.0), (40.1, 18.3), (41.1, 19.1), (37.1, 13.8), (34.5, 13.2), (32.5, 15.0), (30.4, 12.6), (30.4, 9.6),
    (28.4, 7.3), (27.4, 10.8), (25.9, 10.2), (24.3, 7.9), (23.3, 5.5), (25.4, 6.7), (26.4, 9.1), (27.4, 1.9),
    (25.4, 2.5), (24.3, 1.9),
    (-4.2, 7.3), (-3.1, 4.3), (-1.1, 9.1), (0.4, 7.9), (1.9, 8.4), (4.0, 7.9), (-0.1, 6.1), (1.4, 4.3), (3.5, 5.5),
    (4.5, 3.7), (0.9, 1.9), (-1.1, 1.9), (-2.1, 3.1), (-3.1, -0.5), (-4.2, -2.9), (-4.7, 0.7), (-2.1, -2.3),
    (-0.1, -0.5), (1.9, -0.5), (2.5, 1.3), (4.0, 0.7), (5.5, 0.7), (7.0, -1.7), (8.6, -0.5), (10.1, 1.9),
    (11.6, 3.1), (13.1, 3.7), (14.2, 6.7), (15.7, 4.3), (17.2, 4.3), (18.7, 5.5), (19.8, 3.1), (20.8, 2.5),
    (20.3, 0.7), (18.7, 0.1), (17.2, 1.3), (15.7, 1.3), (14.2, 1.9), (12.6, 0.7), (11.1, -0.5), (9.6, -2.9),
    (8.0, -2.9), (6.5, -4.0), (5.0, -4.6), (3.0, -4.6), (0.9, -3.4), (-1.1, -4.6), (-3.1, -5.2), (-5.2, -5.8),
    (-7.2, -5.2), (-8.2, -4.6), (-9.3, -8.8), (-6.2, -7.6), (-4.2, -7.6), (-2.1, -7.6), (-0.1, -7.0), (1.9, -7.0),
    (4.0, -7.0), (6.0, -7.0), (8.0, -5.8), (10.1, -5.2), (12.1, -4.0), (14.2, -2.9), (16.2, -2.3), (18.2, -1.7),
    (20.3, -2.3), (18.7, -4.0), (16.2, -5.2), (14.2, -5.8), (13.1, -7.6), (11.1, -7.6), (9.1, -8.2), (7.0, -8.8),
    (5.0, -9.4), (3.0, -8.8), (0.9, -9.4), (-1.1, -10.6), (-3.1, -10.0), (-5.2, -10.0), (-7.2, -11.2), (-9.3, -12.4),
    (-11.3, -11.2), (-13.3, -10.0), (-13.8, -12.4), (-12.3, -13.5), (-10.3, -14.7), (-8.2, -14.1), (-6.2, -13.0),
    (-4.2, -12.4), (-2.1, -12.4), (-0.6, -13.5), (1.9, -11.8), (4.0, -11.8), (6.0, -11.2), (8.0, -10.6),
    (10.1, -10.0), (10.6, -13.5), (8.6, -12.4), (6.0, -13.5), (4.0, -14.1), (1.9, -15.3), (-0.1, -14.7),
    (-2.1, -14.7), (-4.2, -15.9), (-6.2, -15.3), (-8.2, -17.1), (-10.3, -17.1), (-12.3, -16.5), (-14.3, -16.5),
    (-14.3, -18.9), (-11.3, -18.9), (-9.3, -19.5), (-7.2, -18.3), (-5.2, -18.3), (-3.1, -18.3), (-1.1, -17.7),
    (0.9, -17.1), (3.0, -16.5), (5.0, -15.9), (0.9, -20.1), (-1.1, -20.7), (-3.1, -21.3), (-5.2, -21.9),
    (-7.2, -21.3), (-9.3, -20.7), (-10.3, -23.1), (-8.2, -23.7), (-6.2, -23.1), (-4.2, -23.1), (-2.1, -23.1),
    (4.5, -20.4), (-9.8, -26.0), (-7.7, -27.2), (-5.7, -26.0), (-11.3, -27.8), (-9.3, -28.4), (-12.3, -27.2),
    (-11.3, -30.2), (-10.3, -29.6), (-10.8, -30.8), (-5.4, -29.0),
]

pts_2021 = [
    (-16.6, 34.9), (-15.6, 27.5), (-10.3, 26.3), (-11.1, 24.5), (-9.6, 24.2), (-7.3, 25.1), (-3.3, 24.2),
    (-11.6, 23.0), (-21.8, 21.8), (-23.3, 19.7), (-23.3, 17.1), (-21.3, 15.6), (-10.3, 20.9), (-8.3, 20.3),
    (-7.3, 19.1), (-4.8, 19.7), (-3.3, 18.6), (-2.6, 15.6), (-18.8, 17.4), (-17.8, 17.7), (-15.3, 18.0),
    (-14.3, 18.6), (-12.8, 18.6), (-16.3, 16.2), (-14.8, 14.4), (-10.8, 17.4), (-9.8, 15.6), (-6.8, 16.8),
    (-6.3, 15.0), (-3.8, 16.8), (-22.3, 12.6), (-22.3, 9.6), (-19.3, 13.8), (-19.3, 9.6), (-20.8, 10.8),
    (-17.8, 10.2), (-16.3, 12.6), (-14.3, 12.6), (-13.3, 12.6), (-11.3, 12.6), (-9.3, 12.6), (-7.8, 13.2),
    (-5.8, 12.6), (-3.8, 13.2), (-1.3, 12.0), (1.2, 14.7), (3.0, 14.1), (4.7, 14.4), (-17.1, 6.4), (-15.1, 5.8),
    (-13.3, 9.1), (-11.8, 8.4), (-9.8, 9.1), (-7.3, 10.2), (-5.8, 9.1), (-4.3, 10.2), (-2.3, 10.2), (-3.8, 7.3),
    (-1.8, 6.7), (0.2, 8.4), (2.2, 7.3), (4.7, 7.3), (6.2, 9.6), (7.5, 10.8), (11.7, 9.3), (14.2, 8.4),
    (-18.3, 7.9), (-11.3, 5.5), (-9.3, 4.3), (-7.8, 5.5), (-5.8, 6.1), (-4.3, 4.3), (-2.3, 3.1), (-0.3, 4.3),
    (1.2, 3.1), (3.2, 3.7), (5.2, 4.3), (7.7, 5.5), (9.2, 6.1), (11.2, 6.1), (13.2, 6.7), (13.7, 4.3), (15.2, 3.1),
    (18.7, 4.0), (-15.3, 0.7), (-13.3, 0.1), (-10.8, 1.9), (-8.8, 1.9), (-6.8, 1.3), (-4.8, 1.9), (-2.8, 0.7),
    (-0.8, 1.3), (1.2, 0.7), (3.2, 0.1), (5.2, 1.9), (7.2, 0.7), (10.2, 0.1), (12.2, 0.1), (14.2, -0.5),
    (16.2, 0.1), (18.2, -1.1), (19.7, -2.9), (21.7, 0.7), (24.7, 0.7), (27.2, 1.3), (28.7, 0.4), (-7.8, -1.7),
    (-5.8, -2.3), (-3.8, -1.1), (-1.8, -2.3), (0.2, -2.3), (2.2, -2.9), (4.2, -2.3), (6.2, -2.9), (8.2, -1.7),
    (10.2, -2.3), (12.2, -4.6), (14.2, -4.0), (16.2, -4.6), (18.2, -3.4), (20.2, -4.0), (22.2, -4.0),
    (23.7, -1.7), (26.2, -2.3), (31.2, 8.4), (31.7, 6.7), (34.7, 6.7), (37.2, 5.5), (37.7, 3.1), (31.2, 3.1),
    (32.7, 1.9), (33.2, -0.5), (34.7, 0.1), (36.2, 0.7), (37.2, -1.1), (38.2, -1.1), (35.2, -2.3), (36.7, -4.0),
    (32.7, -2.3), (40.2, -1.1), (41.2, -2.3), (42.2, -1.4), (44.2, -1.4), (-21.6, 0.4), (-21.8, -0.5),
    (-23.3, -3.4), (-14.3, -4.0), (-13.8, -5.2), (-11.8, -7.0), (-9.8, -6.4), (-7.8, -5.8), (-5.8, -5.2),
    (-3.8, -6.4), (-1.3, -6.4), (0.7, -5.2), (3.2, -5.8), (5.2, -6.4), (7.2, -5.8), (10.2, -5.8), (12.2, -7.0),
    (14.9, -9.1), (20.7, -5.8), (24.2, -6.4), (-15.8, -8.2), (-12.3, -8.2), (-9.8, -8.8), (-7.8, -8.8),
    (-6.3, -8.2), (-3.8, -9.4), (-1.8, -8.2), (0.2, -7.6), (2.2, -7.0), (4.2, -7.6), (6.2, -8.2), (8.2, -7.6),
    (10.2, -7.6), (11.7, -8.2), (-16.8, -10.6), (-15.3, -12.4), (-11.8, -10.6), (-9.8, -11.8), (-7.8, -11.8),
    (-6.3, -10.6), (-4.3, -12.4), (-1.8, -12.4), (0.2, -10.0), (2.2, -11.8), (4.7, -11.2), (7.2, -10.6),
    (-26.3, -13.8), (-22.3, -15.0), (-19.8, -13.0), (-18.3, -14.1), (-17.8, -15.3), (-14.8, -14.7),
    (-12.8, -14.7), (-10.8, -14.1), (-9.8, -15.3), (-8.3, -14.1), (-6.8, -15.9), (-3.8, -14.7), (0.2, -14.7),
    (1.7, -16.5), (6.7, -13.8), (8.2, -14.1), (9.2, -15.9), (-13.3, -18.3), (-12.3, -19.5), (-14.8, -19.5),
    (-6.3, -17.1), (-4.3, -17.7), (-3.8, -19.2), (-19.8, -20.1), (-19.3, -21.9), (-17.8, -20.1), (-14.8, -22.5),
    (-12.8, -21.3), (-11.3, -23.1), (-12.8, -24.3), (-4.8, -24.5), (-7.1, -26.6), (-25.1, -25.7), (-21.3, -27.5),
    (-19.8, -25.4), (-18.3, -28.4), (-16.8, -26.6), (-17.1, -29.6), (-26.1, -29.3), (-24.3, -29.0), (-23.3, -30.8),
    (-21.8, -32.6), (-20.8, -31.4), (-19.8, -33.2), (-22.3, -34.4), (-21.1, -34.9), (-19.8, -35.8),
    (-8.3, 7.9), (-6.3, 3.7), (-3.3, 1.9), (-1.3, 6.1), (0.7, 5.5), (2.7, 1.9), (4.7, -0.5), (1.2, -1.7),
]

panel_points = [pts_2014, pts_2015, pts_2016, pts_2017,
                pts_2018, pts_2019, pts_2020, pts_2021]

# axis ranges (free x per panel, shared y) and tick labels
x_ranges = [(-39.8, 27.9), (-49.8, 31.4), (-41.8, 38.0), (-40.7, 25.9),
            (-37.5, 31.8), (-39.2, 39.7), (-34.7, 45.1), (-29.8, 48.6)]
x_ticks = [[-20, 0, 20], [-25, 0, 25], [-40, -20, 0, 20], [-40, -20, 0, 20],
           [-20, 0, 20], [-20, 0, 20], [-20, 0, 20, 40], [-25, 0, 25]]
y_range = (-48.5, 44.7)
y_ticks = [-25, 0, 25]

# ---------------
# LAYOUT (fractions of the 3862 x 2000 page)
# ---------------
W, H = 3862, 2000
col_dom = [(0.0637, 0.2916), (0.2991, 0.5267), (0.5339, 0.7620), (0.7690, 0.9982)]
row_dom = [(0.5835, 0.938), (0.105, 0.459)]
strip_h = 0.0585
FONT = "Liberation Sans, Arial, sans-serif"
strip_fill = "#FFF7DA"

fig = go.Figure()
shapes = []
annotations = []
axes = {}

for i, (year, pts) in enumerate(zip(years, panel_points)):
    r, c = divmod(i, 4)
    n = i + 1
    xs = [p[0] for p in pts]
    ys = [p[1] for p in pts]
    fig.add_trace(go.Scatter(
        x=xs, y=ys, mode="markers",
        xaxis=f"x{n}", yaxis=f"y{n}",
        marker=dict(size=26, color=colors[i], line=dict(color="black", width=2.5)),
        showlegend=False, hoverinfo="skip",
    ))

    axes[f"xaxis{n}"] = dict(
        domain=list(col_dom[c]), anchor=f"y{n}", range=list(x_ranges[i]),
        tickmode="array", tickvals=x_ticks[i], ticktext=[str(v) for v in x_ticks[i]],
        showline=True, mirror=True, linecolor="black", linewidth=3,
        ticks="outside", ticklen=14, tickwidth=3, tickcolor="black",
        ticklabelstandoff=-36,
        tickfont=dict(family=FONT, size=80, color="black", weight="bold"),
        showgrid=False, zeroline=False, automargin=False,
    )
    axes[f"yaxis{n}"] = dict(
        domain=list(row_dom[r]), anchor=f"x{n}", range=list(y_range),
        tickmode="array", tickvals=y_ticks, ticktext=[str(v) for v in y_ticks],
        showticklabels=(c == 0), ticks="outside" if c == 0 else "",
        showline=True, mirror=True, linecolor="black", linewidth=3,
        ticklen=14, tickwidth=3, tickcolor="black",
        tickfont=dict(family=FONT, size=80, color="black", weight="bold"),
        showgrid=False, zeroline=False, automargin=False,
    )

    # facet strip
    y0 = row_dom[r][1]
    shapes.append(dict(
        type="rect", xref="paper", yref="paper",
        x0=col_dom[c][0], x1=col_dom[c][1], y0=y0, y1=y0 + strip_h,
        fillcolor=strip_fill, line=dict(color="black", width=3), layer="above",
    ))
    annotations.append(dict(
        text=f"Panel {year}", xref="paper", yref="paper",
        x=(col_dom[c][0] + col_dom[c][1]) / 2, y=y0 + strip_h / 2,
        xanchor="center", yanchor="middle", showarrow=False,
        font=dict(family=FONT, size=77, color="black", weight="bold"),
    ))

# axis titles
annotations.append(dict(
    text="Principal Component 1", xref="paper", yref="paper",
    x=(col_dom[0][0] + col_dom[3][1]) / 2, y=0.0275,
    xanchor="center", yanchor="middle", showarrow=False,
    font=dict(family=FONT, size=90, color="black", weight="bold"),
))
annotations.append(dict(
    text="Principal Component 2", xref="paper", yref="paper",
    x=0.0127, y=0.5215, textangle=-90,
    xanchor="center", yanchor="middle", showarrow=False,
    font=dict(family=FONT, size=90, color="black", weight="bold"),
))

fig.update_layout(
    width=W, height=H,
    margin=dict(l=0, r=0, t=0, b=0),
    paper_bgcolor="white", plot_bgcolor="white",
    shapes=shapes, annotations=annotations,
    **axes,
)

fig.write_html("out.html")
